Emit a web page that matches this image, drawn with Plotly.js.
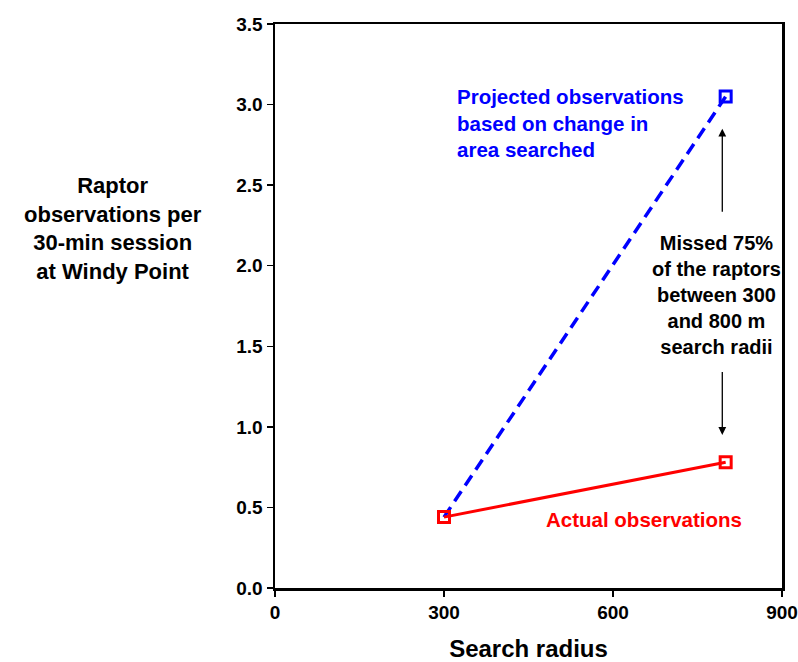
<!DOCTYPE html>
<html>
<head>
<meta charset="utf-8">
<script src="https://cdn.plot.ly/plotly-3.0.1.min.js"></script>
<style>html,body{margin:0;padding:0;background:#fff;}#chart{width:798px;height:662px;}</style>
</head>
<body>
<div id="chart"></div>
<script>
// Data
const searchRadius = [300, 800];
const actualObs = [0.44, 0.78];
const projectedObs = [0.44, 3.05];
const xTicks = [0, 300, 600, 900];
const yTicks = [0, 0.5, 1.0, 1.5, 2.0, 2.5, 3.0, 3.5];
const yTickLabels = ['0.0', '0.5', '1.0', '1.5', '2.0', '2.5', '3.0', '3.5'];

const F = 'Liberation Sans, Arial, sans-serif';

const traces = [
  {
    x: searchRadius, y: projectedObs, type: 'scatter', mode: 'lines+markers',
    line: {color: '#0000ff', width: 3.5, dash: '12px,7px'},
    marker: {symbol: 'square-open', size: 11, color: '#0000ff', line: {width: 3, color: '#0000ff'}},
    hoverinfo: 'skip'
  },
  {
    x: searchRadius, y: actualObs, type: 'scatter', mode: 'lines+markers',
    line: {color: '#ff0000', width: 3},
    marker: {symbol: 'square-open', size: 11, color: '#ff0000', line: {width: 3, color: '#ff0000'}},
    hoverinfo: 'skip'
  }
];

const layout = {
  width: 798, height: 662,
  margin: {l: 275, r: 16, t: 24, b: 74},
  paper_bgcolor: '#fff', plot_bgcolor: '#fff',
  showlegend: false,
  font: {family: F, color: '#000'},
  xaxis: {
    range: [0, 900], tickvals: xTicks, ticktext: xTicks.map(String),
    showgrid: false, zeroline: false,
    showline: true, linecolor: '#000', linewidth: 2.5, mirror: true,
    ticks: 'outside', ticklen: 6, tickwidth: 1.5, tickcolor: '#000',
    tickfont: {family: F, size: 19, color: '#000', weight: 'bold'},
    title: {text: '<b>Search radius</b>', font: {family: F, size: 24, color: '#000'}, standoff: 21}
  },
  yaxis: {
    range: [0, 3.5], tickvals: yTicks, ticktext: yTickLabels,
    showgrid: false, zeroline: false,
    showline: true, linecolor: '#000', linewidth: 2.5, mirror: true,
    ticks: 'outside', ticklen: 6, tickwidth: 1.5, tickcolor: '#000',
    tickfont: {family: F, size: 19, color: '#000', weight: 'bold'}
  },
  annotations: [
    {
      xref: 'paper', yref: 'paper', x: -0.32, y: 0.638, xanchor: 'center', yanchor: 'middle',
      text: '<b>Raptor<br>observations per<br>30-min session<br>at Windy Point</b>',
      showarrow: false, align: 'center',
      font: {family: F, size: 22, color: '#000'}
    },
    {
      xref: 'paper', yref: 'paper', x: 0.355, y: 0.824, xanchor: 'left', yanchor: 'middle',
      text: '<b>Projected observations<br>based on change in<br>area searched</b>',
      showarrow: false, align: 'left',
      font: {family: F, size: 20.5, color: '#0000ff'}
    },
    {
      xref: 'paper', yref: 'paper', x: 0.871, y: 0.519, xanchor: 'center', yanchor: 'middle',
      text: '<b>Missed 75%<br>of the raptors<br>between 300<br>and 800 m<br>search radii</b>',
      showarrow: false, align: 'center',
      font: {family: F, size: 20, color: '#000'}
    },
    {
      xref: 'paper', yref: 'paper', x: 0.728, y: 0.122, xanchor: 'center', yanchor: 'middle',
      text: '<b>Actual observations</b>',
      showarrow: false, align: 'center',
      font: {family: F, size: 20.5, color: '#ff0000'}
    },
    {
      xref: 'x', yref: 'y', axref: 'x', ayref: 'y',
      x: 794, y: 2.85, ax: 794, ay: 2.325, text: '',
      showarrow: true, arrowhead: 2, arrowsize: 1.2, arrowwidth: 1.3, arrowcolor: '#000'
    },
    {
      xref: 'x', yref: 'y', axref: 'x', ayref: 'y',
      x: 794, y: 0.95, ax: 794, ay: 1.35, text: '',
      showarrow: true, arrowhead: 2, arrowsize: 1.2, arrowwidth: 1.3, arrowcolor: '#000'
    }
  ]
};

Plotly.newPlot('chart', traces, layout, {displayModeBar: false, staticPlot: true});
</script>
</body>
</html>
